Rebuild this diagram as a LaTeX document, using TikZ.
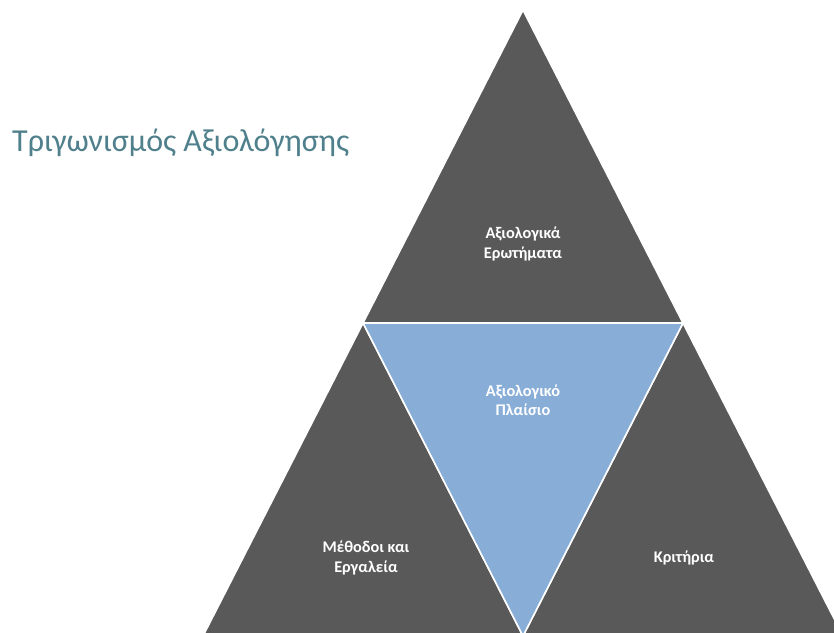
\documentclass[tikz,border=0pt]{standalone}
\usepackage{fontspec}
\setmainfont{Carlito}
\definecolor{darkg}{HTML}{595959}
\definecolor{blueg}{HTML}{88ADD7}
\definecolor{teal}{HTML}{4F808C}
\tikzset{
  tri/.style={fill=darkg, draw=white, line width=1.6pt, line join=miter},
  itri/.style={fill=blueg, draw=white, line width=1.6pt, line join=miter},
  lbl/.style={text=white, font=\fontsize{16.3}{19.5}\selectfont\bfseries, align=center},
}
\begin{document}
\begin{tikzpicture}[x=1pt,y=-1pt]
\useasboundingbox (0,0) rectangle (834,632);
\fill[white] (0,0) rectangle (834,632);
\coordinate (T) at (523,10);
\coordinate (ML) at (363,323);
\coordinate (MR) at (683,323);
\coordinate (BL) at (203,636);
\coordinate (BM) at (523,636);
\coordinate (BR) at (843,636);
\begin{scope}
\clip (0,0) rectangle (834,632);
\filldraw[tri] (T) -- (MR) -- (ML) -- cycle;
\filldraw[tri] (ML) -- (BM) -- (BL) -- cycle;
\filldraw[tri] (MR) -- (BR) -- (BM) -- cycle;
\filldraw[itri] (ML) -- (MR) -- (BM) -- cycle;
\end{scope}
\node[anchor=base west, text=teal, font=\fontsize{32}{37}\selectfont, inner sep=0pt] (title) at (12,151) {Τριγωνισμός Αξιολόγησης};
\node[lbl] (q) at (523,244) {Αξιολογικά\\Ερωτήματα};
\node[lbl] (f) at (523,400) {Αξιολογικό\\Πλαίσιο};
\node[lbl] (m) at (366,558) {Μέθοδοι και\\Εργαλεία};
\node[lbl] (k) at (684,558) {Κριτήρια};
\end{tikzpicture}
\end{document}
